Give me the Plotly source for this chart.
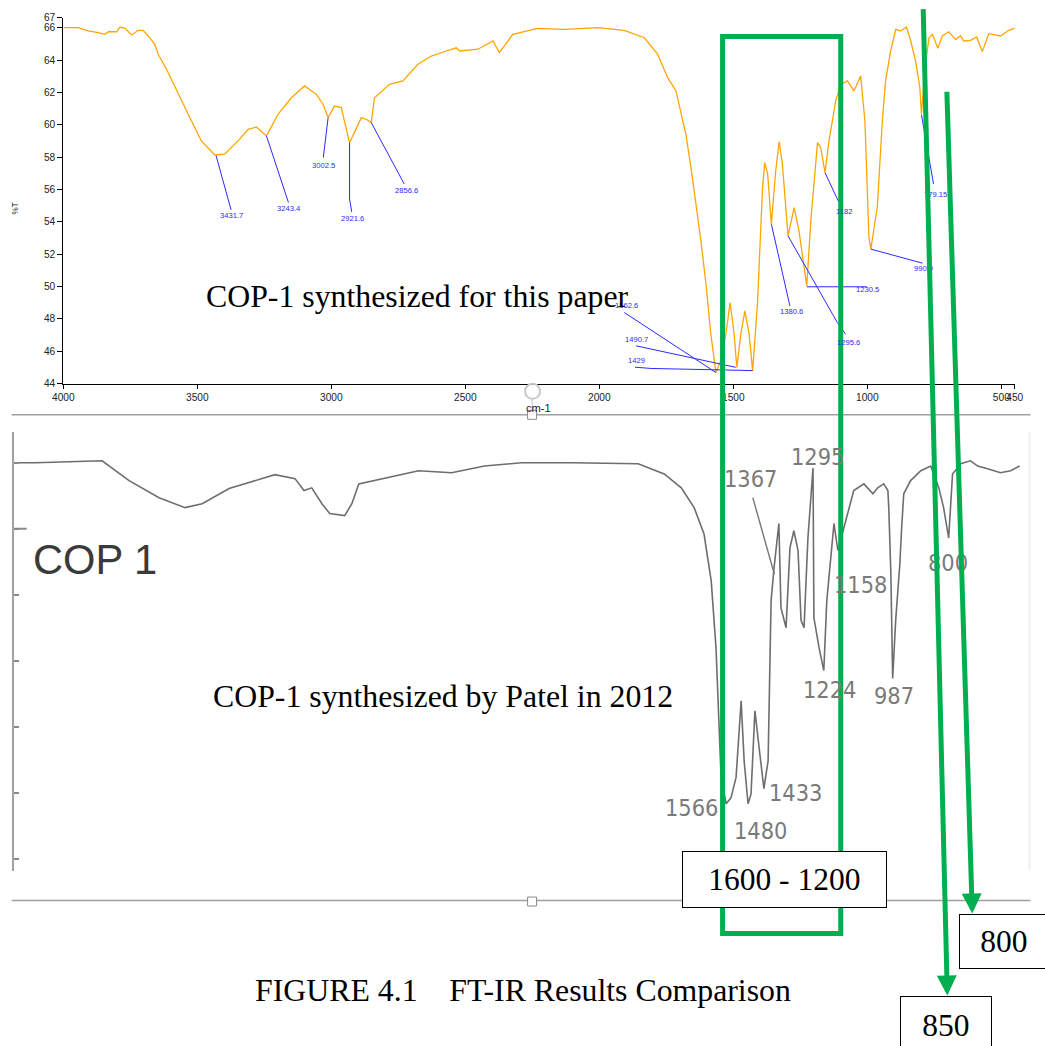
import plotly.graph_objects as go

W, H = 1045, 1046
# observed placement of the rendered page inside the returned picture
SX, OX = 0.982, 9.3
SY, OY = 0.99, 4.0
FS = 1 / 0.984

# ---------------- data: top spectrum (this paper) ----------------
top_wn = [4000, 3944, 3925, 3907, 3870, 3845, 3832, 3801, 3789, 3770, 3745, 3720, 3702, 3683,
          3659, 3646, 3615, 3571, 3534, 3485, 3435, 3398, 3348, 3310, 3280, 3242, 3199, 3149,
          3100, 3056, 3031, 3012, 2988, 2963, 2932, 2888, 2870, 2851, 2839, 2783, 2733, 2677,
          2627, 2571, 2534, 2522, 2453, 2397, 2373, 2323, 2230, 2131, 2006, 1907, 1832, 1782,
          1745, 1714, 1696, 1677, 1658, 1640, 1621, 1602, 1584, 1565, 1547, 1528, 1512, 1497,
          1487, 1472, 1457, 1441, 1428, 1410, 1391, 1383, 1372, 1358, 1342, 1329, 1317, 1296,
          1273, 1255, 1226, 1211, 1186, 1174, 1158, 1143, 1130, 1118, 1099, 1074, 1050, 1025,
          1009, 994, 987, 963, 944, 932, 913, 894, 876, 854, 838, 820, 804, 798, 786, 770, 757,
          737, 720, 696, 671, 652, 640, 615, 592, 571, 547, 503, 472, 450]
top_T = [66.0, 66.0, 65.9, 65.8, 65.69, 65.59, 65.75, 65.75, 66.04, 65.96, 65.55, 65.84, 65.84, 65.49,
         64.97, 64.36, 63.43, 61.88, 60.65, 59.0, 58.13, 58.18, 59.0, 59.72, 59.86, 59.31, 60.65, 61.67,
         62.40, 61.88, 61.27, 60.44, 61.16, 61.06, 58.89, 60.44, 60.34, 60.13, 61.67, 62.50, 62.71, 63.74,
         64.25, 64.56, 64.76, 64.56, 64.67, 65.18, 64.46, 65.59, 65.96, 65.90, 66.0, 65.84, 65.38, 64.36,
         62.91, 62.09, 60.85, 59.41, 57.35, 55.29, 52.82, 50.14, 47.05, 44.68, 45.40, 47.05, 49.0, 47.05,
         44.99, 47.05, 48.49, 47.05, 44.78, 48.93, 56.11, 57.66, 56.96, 53.85, 57.14, 58.96, 57.58, 53.13,
         54.88, 53.44, 50.04, 54.05, 58.89, 58.58, 57.04, 59.0, 60.23, 61.47, 62.50, 62.71, 62.09, 63.02,
         60.23, 53.02, 52.31, 54.88, 60.23, 62.71, 64.56, 65.90, 65.80, 66.04, 65.18, 63.94, 62.29, 60.65,
         63.32, 65.38, 65.59, 64.73, 65.49, 65.75, 65.28, 65.49, 65.18, 65.22, 65.43, 64.52, 65.63, 65.49,
         65.84, 65.96]

top_xticks = [4000, 3500, 3000, 2500, 2000, 1500, 1000, 500, 450]
top_xtext = ["4000", "3500", "3000", "2500", "2000", "1500", "1000", "500", "450"]
top_yticks = [44, 46, 48, 50, 52, 54, 56, 58, 60, 62, 64, 66, 66.62]
top_ytext = ["44", "46", "48", "50", "52", "54", "56", "58", "60", "62", "64", "66", "67"]

# peak labels (top)
peak_labels = ["3431.7", "3243.4", "3002.5", "2921.6", "2856.6", "1562.6", "1490.7", "1429",
               "1380.6", "1295.6", "1230.5", "1182", "990.9", "779.15"]
label_wn = [3373, 3157, 3028, 2922, 2720, 1899, 1860, 1863, 1282, 1071, 999, 1088, 790, 745]
label_T = [54.39, 54.84, 57.50, 54.22, 55.95, 48.85, 46.70, 45.40, 48.45, 46.53, 49.83, 54.61, 51.11, 55.71]
leader_wn = [[3430, 3374], [3242, 3160], [3012, 3030], [2932, 2932, 2924], [2851, 2728],
             [1907, 1565], [1863, 1491], [1867, 1807, 1428], [1358, 1289], [1296, 1112, 1081],
             [1226, 1002], [1158, 1107], [987, 794], [798, 753]]
leader_T = [[58.09, 54.73], [59.31, 55.19], [60.44, 57.97], [58.89, 55.41, 54.61], [60.13, 56.34],
            [48.39, 44.68], [46.33, 45.0], [45.01, 44.93, 44.80], [53.85, 48.80], [53.13, 47.77, 47.05],
            [49.98, 49.98], [57.04, 55.23], [52.31, 51.44], [60.61, 56.34]]

# ---------------- data: bottom spectrum (Patel 2012) ----------------
bot_wn = [3920, 3850, 3627, 3537, 3437, 3350, 3293, 3203, 3050, 2983, 2953, 2927, 2893, 2867,
          2817, 2793, 2770, 2717, 2570, 2460, 2350, 2227, 2060, 1837, 1750, 1693, 1650, 1617,
          1593, 1577, 1570, 1560, 1543, 1527, 1510, 1493, 1483, 1470, 1460, 1447, 1433, 1417,
          1403, 1400, 1393, 1383, 1367, 1360, 1343, 1330, 1317, 1303, 1293, 1283, 1270, 1253,
          1250, 1233, 1217, 1207, 1193, 1183, 1170, 1150, 1133, 1117, 1083, 1053, 1037, 1017,
          1003, 1000, 993, 987, 977, 970, 963, 957, 950, 927, 893, 860, 833, 817, 800, 787,
          760, 727, 703, 670, 627, 593, 563]
bot_T = [100.0, 100.0, 100.3, 97.3, 94.7, 93.2, 93.8, 96.1, 98.2, 97.6, 95.8, 96.2, 93.8, 92.3,
         92.0, 93.8, 96.8, 97.3, 98.8, 98.5, 99.5, 100.0, 100.0, 99.85, 98.3, 96.2, 93.2, 89.2,
         82.1, 72.0, 63.9, 52.3, 48.3, 49.2, 52.3, 63.9, 54.8, 48.3, 49.8, 62.4, 56.8, 50.6,
         54.8, 62.4, 79.1, 84.1, 90.8, 78.0, 75.0, 87.1, 89.7, 86.7, 76.1, 75.0, 88.6, 99.2,
         76.5, 72.0, 68.5, 79.1, 86.7, 90.8, 86.7, 90.2, 93.2, 95.8, 96.8, 95.3, 96.2, 96.8,
         95.8, 93.2, 83.2, 67.3, 76.1, 80.2, 84.7, 90.2, 95.3, 97.3, 98.8, 99.5, 96.2, 93.2, 88.6, 98.3,
         99.85, 100.3, 99.5, 99.1, 98.5, 98.8, 99.5]
bot_yticks = [40, 50, 60, 70, 80, 90, 100]

bot_labels = ["1367", "1295", "1158", "1224", "987", "800", "1566", "1480", "1433"]
bot_label_wn = [1463, 1237, 1093, 1197, 983, 803, 1660, 1430, 1310]
bot_label_T = [97.6, 100.8, 81.4, 65.5, 64.7, 84.8, 47.6, 44.2, 50.0]
bot_leader_wn = [1454, 1382]
bot_leader_T = [94.7, 83.1]


def px(x):
    return ((x - OX) / SX) / W


def py(y):
    return 1 - ((y - OY) / SY) / H


BLUE = "#2b2bff"
GREEN = "#00B050"
SERIF = "Liberation Serif, Times New Roman, serif"
SANS = "Liberation Sans, Arial, sans-serif"
NARROW = "Liberation Sans Narrow, DejaVu Sans Condensed, Liberation Sans, Arial"


def paper_text(x, y, text, **kw):
    d = dict(x=px(x), y=py(y), xref="paper", yref="paper", text=text, showarrow=False,
             xanchor="center", yanchor="middle")
    d.update(kw)
    return d


fig = go.Figure()

fig.add_trace(go.Scatter(x=top_wn, y=top_T, mode="lines", xaxis="x", yaxis="y",
                         line=dict(color="#FFA500", width=1.3), hoverinfo="skip", showlegend=False))
for lw, lt in zip(leader_wn, leader_T):
    fig.add_trace(go.Scatter(x=lw, y=lt, mode="lines", xaxis="x", yaxis="y",
                             line=dict(color=BLUE, width=1), hoverinfo="skip", showlegend=False))

fig.add_trace(go.Scatter(x=bot_wn, y=bot_T, mode="lines", xaxis="x2", yaxis="y2",
                         line=dict(color="#6e6e6e", width=1.6), hoverinfo="skip", showlegend=False))
fig.add_trace(go.Scatter(x=bot_leader_wn, y=bot_leader_T, mode="lines", xaxis="x2", yaxis="y2",
                         line=dict(color="#777777", width=1.4), hoverinfo="skip", showlegend=False))

annotations = []
for t, xw, yt in zip(peak_labels, label_wn, label_T):
    annotations.append(dict(x=xw, y=yt, xref="x", yref="y", text=t, showarrow=False,
                            xanchor="center", yanchor="middle",
                            font=dict(family=SANS, size=7.5 * FS, color=BLUE)))
for t, xw, yt in zip(bot_labels, bot_label_wn, bot_label_T):
    annotations.append(dict(x=xw, y=yt, xref="x2", yref="y2", text=t, showarrow=False,
                            xanchor="center", yanchor="middle",
                            font=dict(family=NARROW, size=23 * FS, color="#7a7a7a")))

NB = "\u00a0"
annotations += [
    paper_text(14, 208, "%T", textangle=-90, font=dict(family=SANS, size=8 * FS, color="#222")),
    paper_text(537, 407, "cm-1", font=dict(family=SANS, size=11 * FS, color="#222")),
    paper_text(416, 296, "COP-1 synthesized for this paper",
               font=dict(family=SERIF, size=31.3 * FS, color="black")),
    paper_text(442, 696, "COP-1 synthesized by Patel in 2012",
               font=dict(family=SERIF, size=31.3 * FS, color="black")),
    paper_text(93, 559, "COP 1", font=dict(family=SANS, size=41 * FS, color="#3a3a3a")),
    paper_text(521.5, 990, "FIGURE 4.1" + NB * 4 + "FT-IR Results Comparison",
               font=dict(family=SERIF, size=31.3 * FS, color="black")),
]

# green arrows (tail -> head)
annotations += [
    dict(x=px(946.7), y=py(995), xref="paper", yref="paper",
         ax=(923 - 946.7) / SX, ay=(17 - 995) / SY,
         axref="pixel", ayref="pixel", text="", showarrow=True, arrowhead=2, arrowsize=0.8,
         arrowwidth=5, arrowcolor=GREEN, standoff=0),
    dict(x=px(971.7), y=py(913), xref="paper", yref="paper",
         ax=(946.7 - 971.7) / SX, ay=(98 - 913) / SY,
         axref="pixel", ayref="pixel", text="", showarrow=True, arrowhead=2, arrowsize=0.8,
         arrowwidth=5, arrowcolor=GREEN, standoff=0),
]

# text boxes
annotations += [
    paper_text(783.5, 879, "1600 - 1200", width=199 / SX, height=54 / SY, borderpad=0,
               bordercolor="black", borderwidth=1, bgcolor="white",
               font=dict(family=SERIF, size=31 * FS, color="black")),
    paper_text(1003, 941, "800", width=86 / SX, height=52 / SY, borderpad=0,
               bordercolor="black", borderwidth=1, bgcolor="white",
               font=dict(family=SERIF, size=31 * FS, color="black")),
    paper_text(945, 1025, "850", width=88 / SX, height=56 / SY, borderpad=0,
               bordercolor="black", borderwidth=1, bgcolor="white",
               font=dict(family=SERIF, size=31 * FS, color="black")),
]

shapes = [
    dict(type="line", xref="paper", yref="paper", x0=px(10), x1=px(1030), y0=py(414), y1=py(414),
         line=dict(color="#a0a0a0", width=1.5), layer="below"),
    dict(type="line", xref="paper", yref="paper", x0=px(10), x1=px(1030), y0=py(900), y1=py(900),
         line=dict(color="#a0a0a0", width=1.5), layer="below"),
    dict(type="line", xref="paper", yref="paper", x0=px(1029), x1=px(1029), y0=py(432), y1=py(870),
         line=dict(color="#ececec", width=1.5), layer="below"),
    dict(type="circle", xref="paper", yref="paper", x0=px(524), x1=px(539), y0=py(383), y1=py(398),
         line=dict(color="#c8c8c8", width=2)),
    dict(type="line", xref="paper", yref="paper", x0=px(531), x1=px(531), y0=py(398), y1=py(409),
         line=dict(color="#c8c8c8", width=1)),
    dict(type="rect", xref="paper", yref="paper", x0=px(526.5), x1=px(535.5), y0=py(409.5), y1=py(418.5),
         line=dict(color="#8a8a8a", width=1), fillcolor="white"),
    dict(type="rect", xref="paper", yref="paper", x0=px(526.5), x1=px(535.5), y0=py(896.5), y1=py(905.5),
         line=dict(color="#8a8a8a", width=1), fillcolor="white"),
    dict(type="line", xref="paper", yref="y2", x0=px(12.7), x1=px(25), y0=90, y1=90,
         line=dict(color="#8a8a8a", width=2)),
    dict(type="rect", xref="paper", yref="paper", x0=px(721.7), x1=px(840), y0=py(35.5), y1=py(933),
         line=dict(color=GREEN, width=5), layer="above"),
]

fig.update_layout(
    width=W, height=H, autosize=False,
    margin=dict(l=0, r=0, t=0, b=0, pad=0),
    paper_bgcolor="white", plot_bgcolor="rgba(0,0,0,0)",
    showlegend=False,
    xaxis=dict(domain=[px(61.7), px(1014.2)], range=[4000, 450], anchor="y",
               tickvals=top_xticks, ticktext=top_xtext, tickangle=0,
               ticks="outside", ticklen=4, tickcolor="black", tickwidth=1,
               showline=True, linecolor="black", linewidth=1.2, showgrid=False, zeroline=False,
               tickfont=dict(family=SANS, size=10 * FS, color="#222")),
    yaxis=dict(domain=[py(382.7), py(16.7)], range=[44, 66.62], anchor="x",
               tickvals=top_yticks, ticktext=top_ytext,
               ticks="outside", ticklen=5, tickcolor="black", tickwidth=1,
               showline=True, linecolor="black", linewidth=1.2, showgrid=False, zeroline=False,
               tickfont=dict(family=SANS, size=10 * FS, color="#222")),
    xaxis2=dict(domain=[px(12.7), px(1027.5)], range=[3920, 535], anchor="y2", visible=False),
    yaxis2=dict(domain=[py(870), py(431)], range=[38.18, 104.7], anchor="x2",
                tickvals=bot_yticks, showticklabels=False,
                ticks="inside", ticklen=5, tickcolor="#8a8a8a", tickwidth=2,
                showline=True, linecolor="#a0a0a0", linewidth=2, showgrid=False, zeroline=False),
    annotations=annotations,
    shapes=shapes,
)

fig.write_html("out.html", config={"displayModeBar": False})
